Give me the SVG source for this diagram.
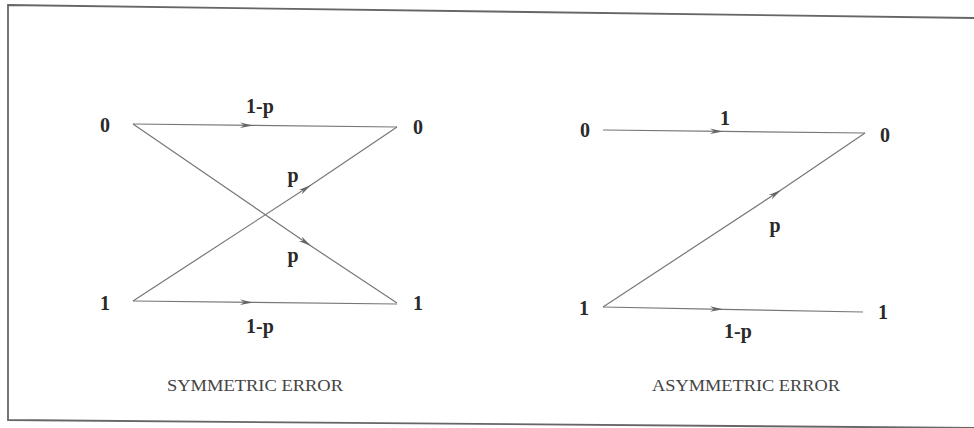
<svg xmlns="http://www.w3.org/2000/svg" width="974" height="428" viewBox="0 0 974 428">
<defs>
<marker id="arr" markerUnits="userSpaceOnUse" markerWidth="14" markerHeight="8" refX="13" refY="4" orient="auto">
<path d="M0,1.3 L13,4 L0,6.7 L4,4 Z" fill="#666"/>
</marker>
<style>
.edge{fill:none;stroke:#777;stroke-width:1.2;marker-mid:url(#arr)}
.lbl{font-family:"Liberation Serif",serif;font-weight:bold;font-size:20px;fill:#2a2a2a;text-anchor:middle}
.cap{font-family:"Liberation Serif",serif;font-size:16px;fill:#444;text-anchor:middle}
</style>
</defs>
<rect width="974" height="428" fill="#fff"/>
<path d="M974,18 L8,5 L8,420 L974,428" fill="none" stroke="#666" stroke-width="1.8"/>
<g id="left-src0"><text class="lbl" x="105" y="132">0</text></g>
<g id="left-src1"><text class="lbl" x="105" y="310">1</text></g>
<g id="left-dst0"><text class="lbl" x="418" y="134">0</text></g>
<g id="left-dst1"><text class="lbl" x="418" y="310">1</text></g>
<g id="right-src0"><text class="lbl" x="585" y="137">0</text></g>
<g id="right-src1"><text class="lbl" x="584" y="315">1</text></g>
<g id="right-dst0"><text class="lbl" x="885" y="142">0</text></g>
<g id="right-dst1"><text class="lbl" x="883" y="319">1</text></g>
<g id="connectors">
<path class="edge" d="M133,124 L253,125.4 L397,127"/>
<path class="edge" d="M133,124 L311,246 L397,303"/>
<path class="edge" d="M133,301 L311,185 L397,127"/>
<path class="edge" d="M133,301 L253,302.4 L397,304"/>
<path class="edge" d="M603,130 L723,131.4 L865,133"/>
<path class="edge" d="M603,307 L781,190 L865,133"/>
<path class="edge" d="M603,307 L723,309.3 L863,312"/>
</g>
<g id="edge-labels">
<text class="lbl" x="260" y="113">1-p</text>
<text class="lbl" x="293" y="182">p</text>
<text class="lbl" x="293" y="262">p</text>
<text class="lbl" x="260" y="333">1-p</text>
<text class="lbl" x="725" y="125">1</text>
<text class="lbl" x="775" y="232">p</text>
<text class="lbl" x="738" y="338">1-p</text>
</g>
<g id="captions">
<text class="cap" x="255" y="391" textLength="176" lengthAdjust="spacingAndGlyphs">SYMMETRIC  ERROR</text>
<text class="cap" x="746" y="391" textLength="188" lengthAdjust="spacingAndGlyphs">ASYMMETRIC  ERROR</text>
</g>
</svg>
